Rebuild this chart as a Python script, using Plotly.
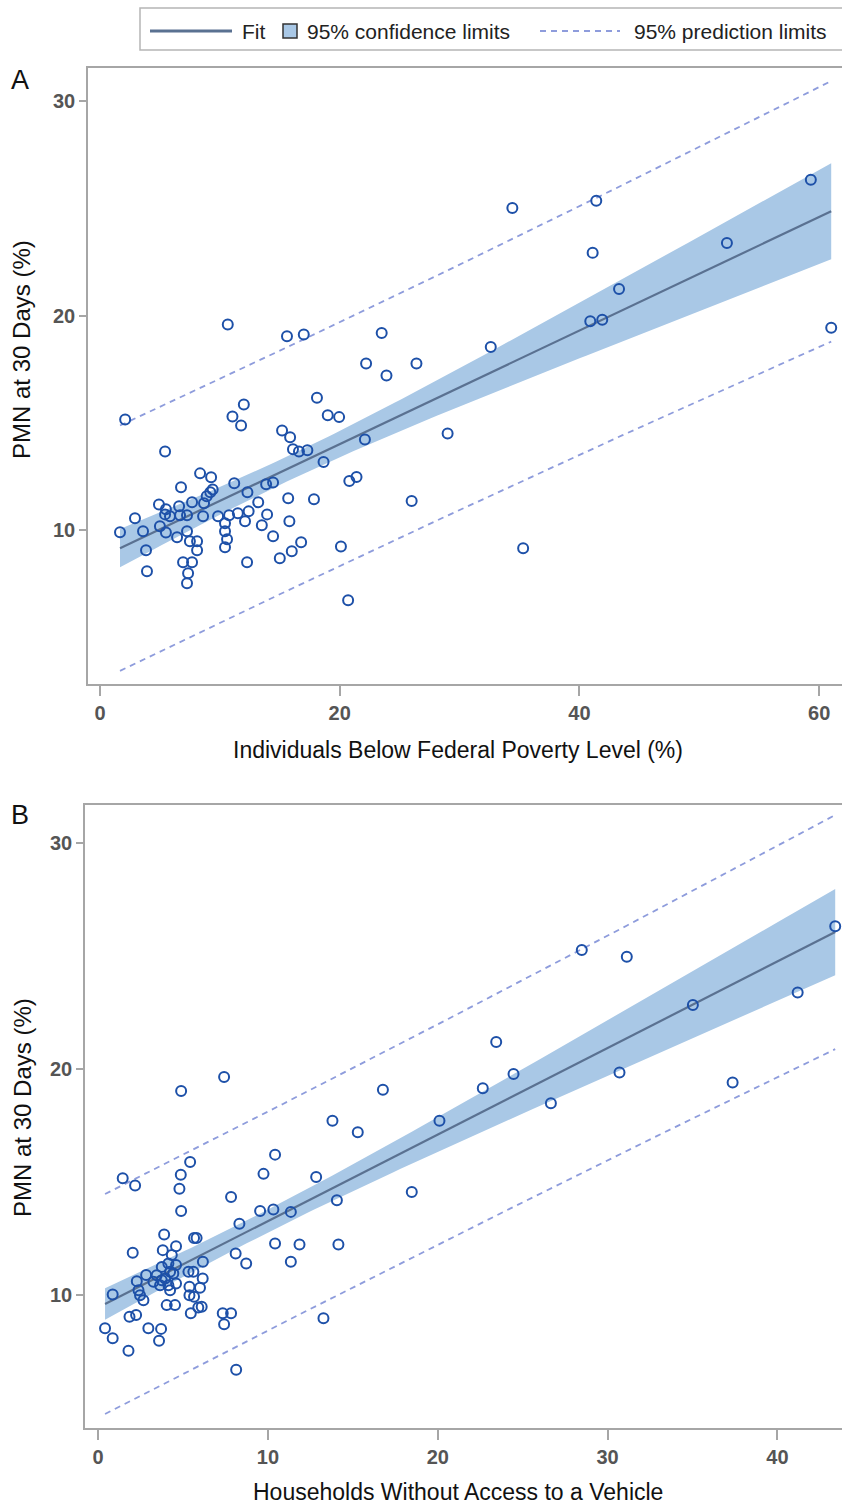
import numpy as np
import plotly.graph_objects as go

# ---------------- data ----------------
pov_x = [2.1, 10.66, 15.6, 17.0, 23.5, 22.2, 26.4, 23.9, 12.0, 11.05, 11.77, 18.1, 19.0, 19.95,
         34.4, 41.4, 41.1, 52.3, 59.3, 43.3, 40.9, 41.9, 32.6, 61.0, 29.0, 15.19, 15.86, 16.1,
         16.6, 17.3, 22.1, 18.65, 5.43, 8.35, 9.27, 6.76, 11.2, 9.4, 9.2, 8.9, 13.86, 14.44,
         12.3, 13.2, 15.7, 17.85, 20.8, 21.4, 4.92, 5.5, 6.6, 7.68, 8.68, 5.84, 5.43, 6.68,
         7.26, 8.6, 2.92, 9.85, 10.77, 11.5, 12.4, 13.94, 1.67, 3.59, 5.0, 5.5, 6.43, 7.26,
         10.43, 10.43, 10.6, 10.43, 12.1, 13.5, 15.8, 14.44, 3.84, 7.5, 8.1, 8.1, 6.93, 7.68,
         7.35, 7.26, 3.92, 12.27, 15.0, 16.0, 16.78, 20.1, 20.7, 35.3, 26.0]
pov_y = [15.16, 19.58, 19.04, 19.12, 19.19, 17.77, 17.77, 17.21, 15.86, 15.3, 14.88, 16.17, 15.36, 15.27,
         25.01, 25.35, 22.92, 23.38, 26.33, 21.24, 19.74, 19.81, 18.54, 19.43, 14.51, 14.65, 14.33, 13.77,
         13.67, 13.73, 14.23, 13.18, 13.67, 12.65, 12.47, 12.0, 12.19, 11.9, 11.77, 11.58, 12.14, 12.23,
         11.77, 11.3, 11.49, 11.44, 12.29, 12.48, 11.2, 10.98, 11.12, 11.3, 11.26, 10.65, 10.74, 10.7,
         10.7, 10.65, 10.56, 10.65, 10.7, 10.79, 10.88, 10.74, 9.91, 9.95, 10.19, 9.9, 9.67, 9.95,
         10.33, 9.95, 9.58, 9.21, 10.42, 10.23, 10.42, 9.72, 9.07, 9.49, 9.49, 9.07, 8.51, 8.51,
         8.0, 7.53, 8.09, 8.51, 8.7, 9.02, 9.44, 9.24, 6.74, 9.16, 11.36]

veh_x = [13.8, 15.29, 10.42, 9.74, 12.84, 5.42, 1.45, 2.18, 4.87, 4.79, 4.89, 7.83, 14.06, 9.54,
         10.32, 11.35, 8.32, 5.65, 5.8, 3.89, 2.04, 3.81, 4.59, 4.34, 6.17, 8.1, 8.72, 10.42,
         11.86, 14.15, 11.35, 13.27, 8.13, 2.83, 2.28, 2.47, 2.67, 2.38, 3.75, 4.14, 4.59, 4.24,
         3.45, 3.95, 4.43, 3.26, 3.75, 4.14, 4.59, 4.24, 3.65, 0.86, 5.32, 5.61, 6.16, 6.0,
         5.38, 5.38, 5.65, 5.9, 5.46, 6.1, 4.04, 4.53, 1.85, 2.24, 7.34, 7.83, 7.42, 0.41,
         0.86, 1.79, 2.96, 3.71, 3.59, 28.48, 31.13, 43.4, 35.02, 41.19, 23.44, 24.46, 22.65,
         16.77, 20.1, 26.66, 30.7, 37.36, 18.47, 4.89, 7.42]
veh_y = [17.72, 17.21, 16.22, 15.37, 15.23, 15.89, 15.18, 14.86, 15.33, 14.71, 13.73, 14.35, 14.2, 13.73,
         13.8, 13.69, 13.17, 12.54, 12.54, 12.69, 11.88, 12.0, 12.17, 11.78, 11.49, 11.85, 11.41, 12.29,
         12.25, 12.25, 11.49, 8.99, 6.71, 10.9, 10.63, 10.01, 9.79, 10.23, 11.26, 11.41, 11.34, 11.04,
         10.89, 10.75, 10.97, 10.6, 10.67, 10.45, 10.53, 10.23, 10.45, 10.04, 11.04, 11.04, 10.75, 10.34,
         10.38, 10.01, 9.94, 9.46, 9.21, 9.5, 9.57, 9.57, 9.06, 9.13, 9.21, 9.21, 8.72, 8.55,
         8.11, 7.55, 8.55, 8.52, 8.0, 25.26, 24.96, 26.31, 22.83, 23.38, 21.2, 19.78, 19.15,
         19.09, 17.72, 18.49, 19.85, 19.41, 14.57, 19.03, 19.65]

pov_ticks = [0, 20, 40, 60]
veh_ticks = [0, 10, 20, 30, 40]
y_ticks = [10, 20, 30]

X_TITLE_A = "Individuals Below Federal Poverty Level (%)"
X_TITLE_B = "Households Without Access to a Vehicle"
Y_TITLE = "PMN at 30 Days (%)"
LEGEND_LABELS = ["Fit", "95% confidence limits", "95% prediction limits"]

T_CRIT = 1.986  # two-sided 95% t quantile, ~90 df

# ---------------- style ----------------
W, H = 842, 1505
FONT = "Liberation Sans, Arial, sans-serif"
MARKER = "#1d50a8"
FIT = "#5a7191"
CI_FILL = "#a9c8e6"
PI_COL = "#8e9cdc"
AXIS_COL = "#a6a6a6"
TICK_FONT = dict(family=FONT, size=20, color="#555555", weight="bold")
TITLE_FONT = dict(family=FONT, size=23, color="#111111")
YTITLE_FONT = dict(family=FONT, size=24, color="#111111")
LEG_FONT = dict(family=FONT, size=21, color="#222222")


def regression(x, y, npts=120):
    x = np.asarray(x, float)
    y = np.asarray(y, float)
    n = len(x)
    b1, b0 = np.polyfit(x, y, 1)
    s = np.sqrt(np.sum((y - (b0 + b1 * x)) ** 2) / (n - 2))
    xm = x.mean()
    sxx = np.sum((x - xm) ** 2)
    xs = np.linspace(x.min(), x.max(), npts)
    yh = b0 + b1 * xs
    se_m = s * np.sqrt(1 / n + (xs - xm) ** 2 / sxx)
    se_p = s * np.sqrt(1 + 1 / n + (xs - xm) ** 2 / sxx)
    return xs, yh, yh - T_CRIT * se_m, yh + T_CRIT * se_m, yh - T_CRIT * se_p, yh + T_CRIT * se_p


fig = go.Figure()


def add_panel(x, y, xa, ya):
    xs, yh, cl, cu, pl, pu = regression(x, y)
    fig.add_trace(go.Scatter(x=np.concatenate([xs, xs[::-1]]), y=np.concatenate([cu, cl[::-1]]),
                             fill="toself", fillcolor=CI_FILL, line=dict(width=0), mode="lines",
                             hoverinfo="skip", showlegend=False, name=LEGEND_LABELS[1],
                             xaxis=xa, yaxis=ya))
    for arr in (pu, pl):
        fig.add_trace(go.Scatter(x=xs, y=arr, mode="lines", name=LEGEND_LABELS[2],
                                 line=dict(color=PI_COL, width=1.8, dash="6px,5px"),
                                 showlegend=False, xaxis=xa, yaxis=ya))
    fig.add_trace(go.Scatter(x=xs, y=yh, mode="lines", name=LEGEND_LABELS[0],
                             line=dict(color=FIT, width=2.2),
                             showlegend=False, xaxis=xa, yaxis=ya))
    fig.add_trace(go.Scatter(x=x, y=y, mode="markers", name="Observed",
                             marker=dict(symbol="circle-open", size=10, color=MARKER,
                                         line=dict(width=2, color=MARKER)),
                             showlegend=False, xaxis=xa, yaxis=ya))


add_panel(pov_x, pov_y, "x", "y")
add_panel(veh_x, veh_y, "x2", "y2")


def px_x(p):
    return p / W


def px_y(p):
    return 1 - p / H


# ---------------- legend (key box at the top) ----------------
LEG_Y = 31
shapes = [
    dict(type="rect", xref="paper", yref="paper", x0=px_x(140), x1=px_x(860), y0=px_y(50), y1=px_y(8),
         line=dict(color="#b5b5b5", width=1.5), fillcolor="white", layer="below"),
    dict(type="line", xref="paper", yref="paper", x0=px_x(150), x1=px_x(232), y0=px_y(LEG_Y), y1=px_y(LEG_Y),
         line=dict(color=FIT, width=3)),
    dict(type="rect", xref="paper", yref="paper", x0=px_x(283), x1=px_x(297), y0=px_y(LEG_Y + 7),
         y1=px_y(LEG_Y - 7), line=dict(color="#333333", width=1.5), fillcolor=CI_FILL),
    dict(type="line", xref="paper", yref="paper", x0=px_x(540), x1=px_x(620), y0=px_y(LEG_Y), y1=px_y(LEG_Y),
         line=dict(color=PI_COL, width=1.8, dash="6px,5px")),
]
annotations = []
for txt, x in zip(LEGEND_LABELS, [240, 305, 632]):
    annotations.append(dict(text=txt, x=px_x(x), y=px_y(LEG_Y), xref="paper", yref="paper",
                            showarrow=False, xanchor="left", yanchor="middle", font=LEG_FONT))

for txt, x, y, ang, f in [
    ("A", 20, 80, 0, dict(family=FONT, size=27, color="#111")),
    ("B", 20, 815, 0, dict(family=FONT, size=27, color="#111")),
    (X_TITLE_A, 458, 750, 0, TITLE_FONT),
    (X_TITLE_B, 458, 1492, 0, TITLE_FONT),
    (Y_TITLE, 22, 350, -90, YTITLE_FONT),
    (Y_TITLE, 22, 1108, -90, YTITLE_FONT),
]:
    annotations.append(dict(text=txt, x=px_x(x), y=px_y(y), xref="paper", yref="paper",
                            showarrow=False, textangle=ang, xanchor="center", yanchor="middle", font=f))

axis_common = dict(showgrid=False, zeroline=False, showline=True, linecolor=AXIS_COL, linewidth=1.5,
                   ticks="outside", tickcolor=AXIS_COL, tickwidth=1.5, tickfont=TICK_FONT)

fig.update_layout(
    width=W, height=H, margin=dict(l=0, r=0, t=0, b=0),
    paper_bgcolor="white", plot_bgcolor="white",
    xaxis=dict(domain=[px_x(88), 1], range=[-1.0, 61.9], tickvals=pov_ticks, anchor="y",
               mirror=True, ticklen=10, **axis_common),
    yaxis=dict(domain=[px_y(684), px_y(68)], range=[2.84, 31.53], tickvals=y_ticks, anchor="x",
               ticklen=7, **axis_common),
    xaxis2=dict(domain=[px_x(85), 1], range=[-0.77, 43.8], tickvals=veh_ticks, anchor="y2",
                mirror=True, ticklen=10, **axis_common),
    yaxis2=dict(domain=[px_y(1428), px_y(805)], range=[4.14, 31.67], tickvals=y_ticks, anchor="x2",
                ticklen=7, **axis_common),
    showlegend=False,
    shapes=shapes,
    annotations=annotations,
)

fig.write_html("out.html", config={"displayModeBar": False},
               post_script="document.body.style.margin='0';"
                           "document.documentElement.style.overflow='hidden';")
